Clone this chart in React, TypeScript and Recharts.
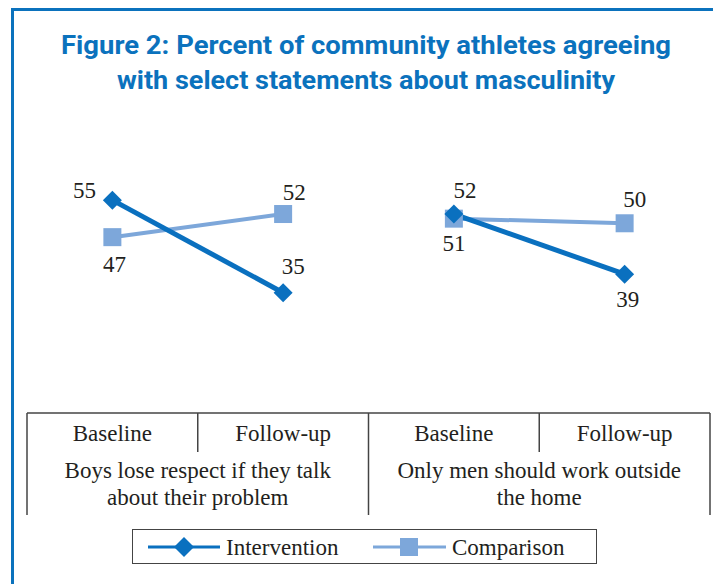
import { LineChart, Line, XAxis, YAxis, Legend } from 'recharts';

const categories = ['Baseline', 'Follow-up', 'Baseline', 'Follow-up'];
const statements = [
  ['Boys lose respect if they talk', 'about their problem'],
  ['Only men should work outside', 'the home'],
];
const intervention = [55, 35, 52, 39];
const comparison = [47, 52, 51, 50];

const colors = {
  intervention: '#0a70bf',
  comparison: '#7da7da',
  title: '#0b72bd',
  rule: '#444444',
  text: '#231f20',
};

const SERIF = '"Liberation Serif", "Times New Roman", serif';
const W = 713;
const H = 584;
const MARGIN = { top: 177, right: 3, bottom: 0, left: 27 };
const PLOT_W = W - MARGIN.left - MARGIN.right;
const BAND = PLOT_W / categories.length;

// one key per statement so each statement gets its own two-point line
const data = categories.map((cat, i) => {
  const g = Math.floor(i / 2);
  return { idx: i, cat, [`int${g}`]: intervention[i], [`cmp${g}`]: comparison[i] };
});

// where each value label sits relative to its point
const labelOffsets: Record<string, number[][]> = {
  int: [[-28, -10], [10, -26], [11, -24], [3, 25]],
  cmp: [[2, 27], [11, -22], [0, 25], [10, -24]],
};

const makeLabel = (series: string) => (props: any) => {
  const { x, y, value, index } = props;
  if (value == null || x == null || y == null) return <g key={`l-${series}-${index}`} />;
  const [dx, dy] = labelOffsets[series][index];
  return (
    <text key={`l-${series}-${index}`} x={x + dx} y={y + dy} textAnchor="middle" dominantBaseline="central"
      fontFamily={SERIF} fontSize={23} fill={colors.text}>
      {value}
    </text>
  );
};

const Diamond = (props: any) => {
  const { cx, cy, index, value } = props;
  if (value == null || cx == null || cy == null) return <g key={`d-${index}`} />;
  const r = 9.5;
  return (
    <polygon key={`d-${index}`} points={`${cx},${cy - r} ${cx + r},${cy} ${cx},${cy + r} ${cx - r},${cy}`}
      fill={colors.intervention} />
  );
};

const Square = (props: any) => {
  const { cx, cy, index, value } = props;
  if (value == null || cx == null || cy == null) return <g key={`s-${index}`} />;
  return <rect key={`s-${index}`} x={cx - 9} y={cy - 9} width={18} height={18} fill={colors.comparison} />;
};

const TableTick = ({ x, y, payload }: any) => {
  const i = payload.value as number;
  const left = x - BAND / 2;
  const long = i % 2 === 0;
  return (
    <g>
      <line x1={left} x2={left} y1={y} y2={y + (long ? 102 : 39)} stroke={colors.rule} strokeWidth={1.5} />
      {i === categories.length - 1 && (
        <line x1={x + BAND / 2} x2={x + BAND / 2} y1={y} y2={y + 102} stroke={colors.rule} strokeWidth={1.5} />
      )}
      <text x={x} y={y + 28} textAnchor="middle" fontFamily={SERIF} fontSize={23} fill={colors.text}>
        {categories[i]}
      </text>
      {long &&
        statements[i / 2].map((ln, k) => (
          <text key={k} x={x + BAND / 2} y={y + 65 + k * 27} textAnchor="middle" fontFamily={SERIF} fontSize={23}
            fill={colors.text}>
            {ln}
          </text>
        ))}
    </g>
  );
};

const LegendBox = () => (
  <div style={{ width: 465, height: 35, border: `1.5px solid ${colors.rule}`, boxSizing: 'border-box', background: '#fff' }}>
    <svg width={462} height={32}>
      <line x1={15} x2={87} y1={17} y2={17} stroke={colors.intervention} strokeWidth={3} />
      <polygon points="51,7 61,17 51,27 41,17" fill={colors.intervention} />
      <text x={93} y={25} fontFamily={SERIF} fontSize={23} fill={colors.text}>Intervention</text>
      <line x1={240} x2={313} y1={17} y2={17} stroke={colors.comparison} strokeWidth={3} />
      <rect x={267} y={8} width={18} height={18} fill={colors.comparison} />
      <text x={319} y={25} fontFamily={SERIF} fontSize={23} fill={colors.text}>Comparison</text>
    </svg>
  </div>
);

export default function App() {
  return (
    <div style={{ position: 'absolute', left: 0, top: 0, width: W, height: H, overflow: 'hidden', background: '#fff' }}>
      <div style={{ position: 'absolute', left: 11, top: 8, width: 900, height: 900, border: `3px solid ${colors.title}` }} />
      <svg width={W} height={110} style={{ position: 'absolute', left: 0, top: 0 }}>
        <text x={366} y={54} textAnchor="middle" textLength={610} lengthAdjust="spacingAndGlyphs"
          fontFamily='"Liberation Sans Narrow", Roboto, "Liberation Sans", sans-serif' fontWeight="bold" fontSize={26}
          fill={colors.title}>
          Figure 2: Percent of community athletes agreeing
        </text>
        <text x={366} y={89} textAnchor="middle" textLength={498} lengthAdjust="spacingAndGlyphs"
          fontFamily='"Liberation Sans Narrow", Roboto, "Liberation Sans", sans-serif' fontWeight="bold" fontSize={26}
          fill={colors.title}>
          with select statements about masculinity
        </text>
      </svg>
      <div style={{ position: 'absolute', left: 0, top: 0 }}>
        <LineChart width={W} height={H} data={data} margin={MARGIN}>
          <XAxis dataKey="idx" scale="band" height={H - 413} axisLine={{ stroke: colors.rule, strokeWidth: 1.5 }}
            tickLine={false} tickSize={0} tickMargin={0} tick={<TableTick />} interval={0} />
          <YAxis hide domain={[9, 60]} />
          <Legend layout="horizontal" verticalAlign="middle" content={() => <LegendBox />}
            wrapperStyle={{ left: 132, top: 529, width: 465, height: 35, bottom: 'auto' }} />
          {[0, 1].map((g) => (
            <Line key={`cmp${g}`} dataKey={`cmp${g}`} stroke={colors.comparison} strokeWidth={4}
              dot={<Square />} activeDot={false} label={makeLabel('cmp')} isAnimationActive={false} />
          ))}
          {[0, 1].map((g) => (
            <Line key={`int${g}`} dataKey={`int${g}`} stroke={colors.intervention} strokeWidth={5}
              dot={<Diamond />} activeDot={false} label={makeLabel('int')} isAnimationActive={false} />
          ))}
        </LineChart>
      </div>
    </div>
  );
}
